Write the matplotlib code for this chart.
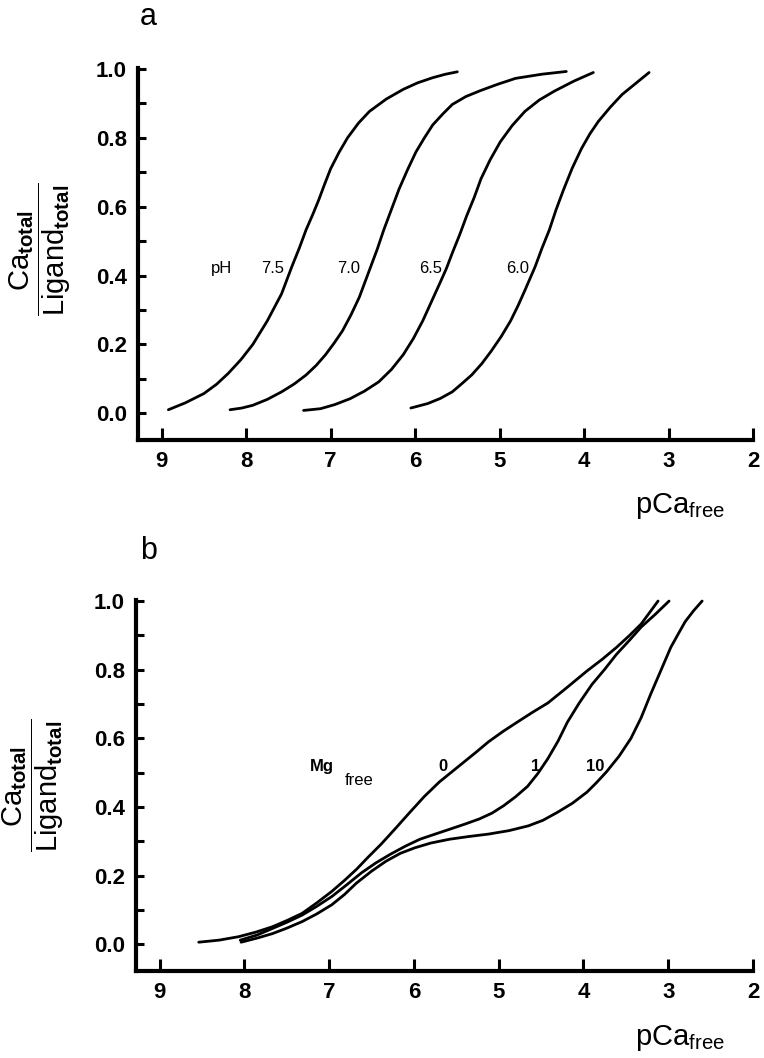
"""Ca binding curves of a chelator: pH series (a) and Mg series (b)."""

import matplotlib

matplotlib.use("Agg")
import matplotlib.pyplot as plt
from matplotlib.ticker import MultipleLocator

plt.rcParams["font.family"] = ["Liberation Sans", "DejaVu Sans"]
plt.rcParams["mathtext.fontset"] = "custom"
plt.rcParams["mathtext.rm"] = "Liberation Sans"
plt.rcParams["mathtext.bf"] = "Liberation Sans:bold"

# panel a: Ca_total/Ligand_total vs pCa_free at four pH values
ph_labels = ["7.5", "7.0", "6.5", "6.0"]
ph_label_x = [7.69, 6.79, 5.82, 4.79]
ph_pca = [
    [8.92, 8.72, 8.50, 8.35, 8.21, 8.06, 7.92, 7.75, 7.58, 7.46, 7.37, 7.29, 7.21, 7.14,
     7.07, 7.00, 6.90, 6.80, 6.67, 6.54, 6.34, 6.14, 5.97, 5.79, 5.64, 5.50],
    [8.19, 8.05, 7.92, 7.75, 7.58, 7.43, 7.29, 7.17, 7.06, 6.96, 6.86, 6.76, 6.66, 6.54,
     6.45, 6.37, 6.28, 6.19, 6.09, 5.99, 5.89, 5.79, 5.67, 5.56, 5.40, 5.22, 5.02, 4.81,
     4.50, 4.21],
    [7.32, 7.12, 6.95, 6.77, 6.60, 6.43, 6.28, 6.14, 6.02, 5.91, 5.81, 5.71, 5.63, 5.56,
     5.47, 5.39, 5.30, 5.22, 5.11, 4.99, 4.85, 4.70, 4.53, 4.35, 4.12, 3.89],
    [6.05, 5.85, 5.70, 5.56, 5.45, 5.33, 5.21, 5.10, 4.98, 4.87, 4.78, 4.70, 4.64, 4.58,
     4.50, 4.41, 4.33, 4.24, 4.14, 4.03, 3.93, 3.83, 3.69, 3.55, 3.39, 3.23],
]
ph_ratio = [
    [0.010, 0.030, 0.057, 0.084, 0.116, 0.156, 0.200, 0.268, 0.347, 0.425, 0.480, 0.533,
     0.578, 0.620, 0.666, 0.710, 0.758, 0.800, 0.843, 0.877, 0.913, 0.941, 0.960, 0.975,
     0.985, 0.992],
    [0.010, 0.015, 0.023, 0.040, 0.062, 0.085, 0.111, 0.139, 0.170, 0.203, 0.239, 0.285,
     0.337, 0.416, 0.475, 0.533, 0.592, 0.651, 0.707, 0.759, 0.800, 0.838, 0.870, 0.897,
     0.920, 0.938, 0.956, 0.973, 0.985, 0.993],
    [0.008, 0.013, 0.025, 0.042, 0.064, 0.091, 0.127, 0.170, 0.217, 0.268, 0.322, 0.376,
     0.420, 0.465, 0.520, 0.573, 0.627, 0.681, 0.737, 0.789, 0.836, 0.877, 0.910, 0.936,
     0.965, 0.990],
    [0.015, 0.028, 0.043, 0.062, 0.085, 0.111, 0.144, 0.180, 0.223, 0.268, 0.313, 0.357,
     0.391, 0.425, 0.478, 0.533, 0.592, 0.651, 0.712, 0.769, 0.812, 0.848, 0.889, 0.926,
     0.958, 0.990],
]

# panel b: same ratio with 0, 1 and 10 mM free Mg
mg_labels = ["0", "1", "10"]
mg_label_x = [5.66, 4.57, 3.86]
mg_pca = [
    [8.54, 8.30, 8.07, 7.87, 7.67, 7.50, 7.32, 7.15, 6.97, 6.82, 6.68, 6.54, 6.39, 6.22,
     6.05, 5.88, 5.70, 5.55, 5.41, 5.26, 5.12, 4.95, 4.77, 4.60, 4.42, 4.19, 3.96, 3.78,
     3.61, 3.46, 3.32, 3.12],
    [8.05, 7.85, 7.67, 7.50, 7.32, 7.15, 6.97, 6.80, 6.62, 6.45, 6.28, 6.10, 5.93, 5.75,
     5.58, 5.40, 5.23, 5.08, 4.94, 4.80, 4.66, 4.54, 4.42, 4.30, 4.19, 4.05, 3.90, 3.75,
     3.61, 3.46, 3.32, 3.15, 2.99],
    [8.04, 7.85, 7.67, 7.50, 7.32, 7.15, 6.97, 6.82, 6.68, 6.50, 6.33, 6.16, 5.99, 5.80,
     5.58, 5.35, 5.12, 4.88, 4.65, 4.48, 4.31, 4.13, 3.96, 3.85, 3.73, 3.58, 3.44, 3.32,
     3.21, 3.09, 2.97, 2.88, 2.80, 2.70, 2.60],
]
mg_ratio = [
    [0.006, 0.012, 0.022, 0.035, 0.051, 0.069, 0.090, 0.120, 0.154, 0.186, 0.218, 0.254,
     0.291, 0.337, 0.384, 0.430, 0.473, 0.503, 0.531, 0.561, 0.590, 0.620, 0.649, 0.676,
     0.703, 0.749, 0.796, 0.830, 0.865, 0.899, 0.933, 1.000],
    [0.012, 0.027, 0.046, 0.064, 0.085, 0.110, 0.139, 0.172, 0.208, 0.237, 0.262, 0.286,
     0.306, 0.321, 0.335, 0.350, 0.365, 0.382, 0.404, 0.430, 0.460, 0.497, 0.541, 0.592,
     0.647, 0.703, 0.757, 0.801, 0.845, 0.885, 0.924, 0.962, 1.000],
    [0.006, 0.018, 0.031, 0.047, 0.066, 0.088, 0.115, 0.145, 0.178, 0.213, 0.242, 0.265,
     0.281, 0.295, 0.306, 0.314, 0.321, 0.331, 0.345, 0.361, 0.384, 0.411, 0.443, 0.470,
     0.502, 0.548, 0.600, 0.660, 0.727, 0.796, 0.865, 0.905, 0.940, 0.972, 1.000],
]

x_ticks = [9, 8, 7, 6, 5, 4, 3, 2]
y_label = r"$\dfrac{\mathrm{Ca}_{\mathbf{total}}}{\mathrm{Ligand}_{\mathbf{total}}}$"
x_label = r"$\mathrm{pCa}_{\mathrm{free}}$"


def style_axis(axis):
    axis.set_xlim(9.28, 2.0)
    axis.set_ylim(-0.078, 1.003)
    for side in ("top", "right"):
        axis.spines[side].set_visible(False)
    for side in ("left", "bottom"):
        axis.spines[side].set_linewidth(3.0)
        axis.spines[side].set_capstyle("projecting")
    axis.set_xticks(x_ticks)
    axis.set_xticklabels([str(t) for t in x_ticks])
    axis.yaxis.set_major_locator(MultipleLocator(0.2))
    axis.yaxis.set_minor_locator(MultipleLocator(0.1))
    axis.yaxis.set_major_formatter(lambda v, _: f"{v:.1f}")
    axis.tick_params(axis="x", direction="in", length=9, width=2.2, pad=8)
    axis.tick_params(axis="y", which="both", direction="in", length=5.5, width=2.2, pad=8)
    for label in axis.get_xticklabels() + axis.get_yticklabels():
        label.set_fontsize(16)
        label.set_fontweight("bold")


fig = plt.figure(figsize=(7.64, 10.58), dpi=100)
ax_a = fig.add_axes([0.1806, 0.5841, 0.805, 0.3516])
ax_b = fig.add_axes([0.178, 0.0822, 0.8076, 0.3507])

for xs, ys in zip(ph_pca, ph_ratio):
    ax_a.plot(xs, ys, color="black", linewidth=2.0, solid_capstyle="round",
              solid_joinstyle="round", clip_on=False)
ax_a.text(8.29, 0.42, "pH", fontsize=12, ha="center", va="center")
for lx, lab in zip(ph_label_x, ph_labels):
    ax_a.text(lx, 0.42, lab, fontsize=12, ha="center", va="center")
style_axis(ax_a)

for xs, ys in zip(mg_pca, mg_ratio):
    ax_b.plot(xs, ys, color="black", linewidth=2.0, solid_capstyle="round",
              solid_joinstyle="round", clip_on=False)
ax_b.text(7.09, 0.517, "Mg", fontsize=12, fontweight="bold", ha="center", va="center")
ax_b.text(6.65, 0.478, "free", fontsize=12, ha="center", va="center")
for lx, lab in zip(mg_label_x, mg_labels):
    ax_b.text(lx, 0.517, lab, fontsize=12, fontweight="bold", ha="center", va="center")
style_axis(ax_b)

fig.text(0.052, 0.764, y_label, fontsize=21, rotation=90, ha="center", va="center")
fig.text(0.043, 0.258, y_label, fontsize=21, rotation=90, ha="center", va="center")
fig.text(0.949, 0.515, x_label, fontsize=21, ha="right", va="baseline")
fig.text(0.949, 0.0123, x_label, fontsize=21, ha="right", va="baseline")
fig.text(0.183, 0.976, "a", fontsize=22, ha="left", va="baseline")
fig.text(0.183, 0.4716, "b", fontsize=22, ha="left", va="baseline")

fig.savefig("out.png", dpi=100, facecolor="white")
